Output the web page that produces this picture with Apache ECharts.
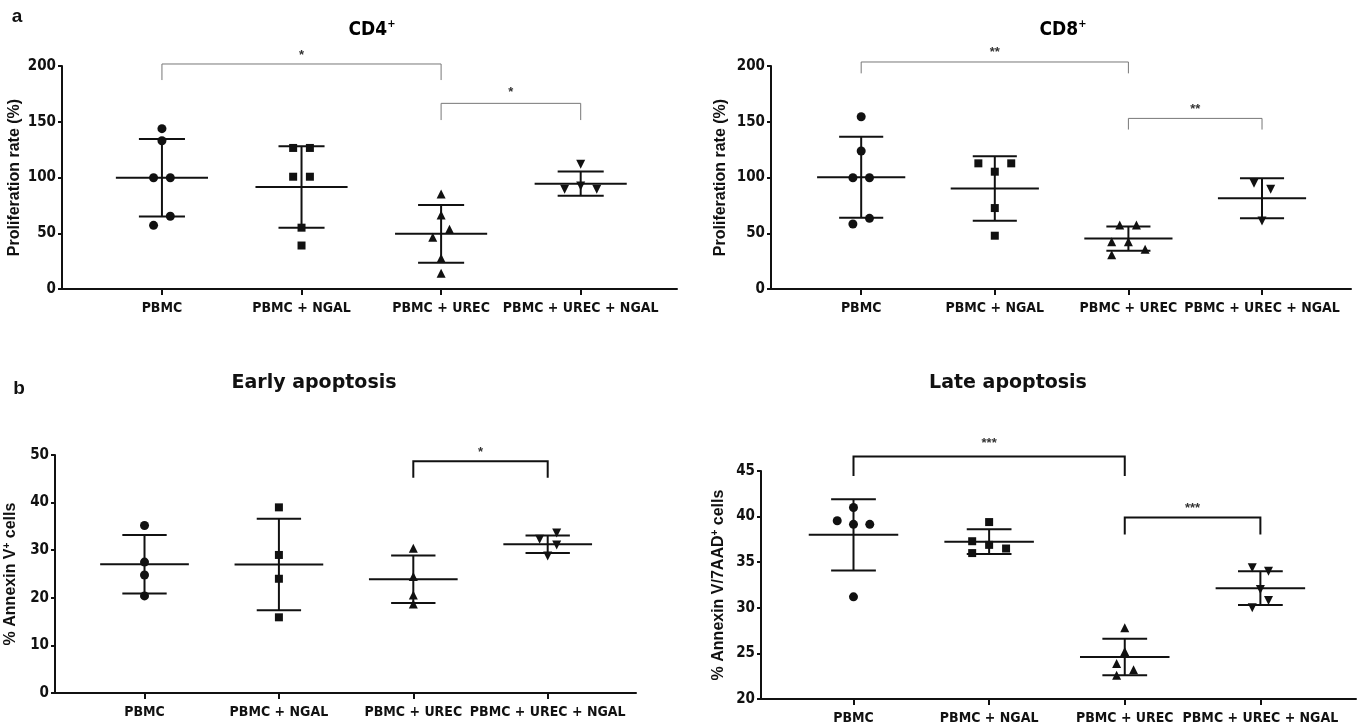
<!DOCTYPE html>
<html>
<head>
<meta charset="utf-8">
<script src="https://cdn.jsdelivr.net/npm/echarts@6/dist/echarts.min.js"></script>
<style>
html,body{margin:0;padding:0;background:#fff;}
#chart{width:1358px;height:725px;}
</style>
</head>
<body>
<div id="chart"></div>
<script>
// ---------- DATA ----------
const categories = ['PBMC', 'PBMC + NGAL', 'PBMC + UREC', 'PBMC + UREC + NGAL'];

// a) CD4+ proliferation rate (%)
const cd4Values = [
  [143.8, 133, 99.8, 99.8, 65.2, 57.1],
  [126.5, 126.5, 100.7, 100.7, 55, 39],
  [85.2, 66.4, 53.5, 46.4, 27.5, 14.1],
  [111.8, 92.4, 89.4, 89.4]
];
const cd4Jitter = [
  [0, 0, -0.06, 0.06, 0.06, -0.06],
  [-0.06, 0.06, -0.06, 0.06, 0, 0],
  [0, 0, 0.06, -0.06, 0, 0],
  [0, 0, -0.115, 0.115]
];
const cd4Mean = [99.8, 91.5, 49.5, 94.5];
const cd4Sd = [34.8, 36.5, 25.9, 10.8];
const cd4Brackets = [[0, 2, 201.8, 187.4, 212.5], [2, 3, 166.5, 151.5, 179]];
const cd4Stars = ['*', '*'];

// a) CD8+ proliferation rate (%)
const cd8Values = [
  [154.5, 123.8, 99.8, 99.8, 63.4, 58.3],
  [112.7, 112.7, 105.2, 72.6, 47.8],
  [57.4, 57.4, 42.4, 42.4, 35.6, 30.8],
  [94.8, 89.4, 61]
];
const cd8Jitter = [
  [0, 0, -0.062, 0.062, 0.062, -0.062],
  [-0.123, 0.123, 0, 0, 0],
  [-0.065, 0.06, -0.125, 0, 0.125, -0.125],
  [-0.06, 0.065, 0]
];
const cd8Mean = [100.3, 90.2, 45.2, 81.4];
const cd8Sd = [36.3, 28.9, 10.8, 18];
const cd8Brackets = [[0, 2, 203.6, 193.4, 215], [2, 3, 153, 143, 163.5]];
const cd8Stars = ['**', '**'];

// b) Early apoptosis, % Annexin V+ cells
const earlyValues = [
  [35.2, 27.5, 24.8, 20.4],
  [39, 29, 24, 15.9],
  [30.4, 24.5, 20.6, 18.7],
  [33.6, 32.3, 31.1, 28.8]
];
const earlyJitter = [
  [0, 0, 0, 0],
  [0, 0, 0, 0],
  [0, 0, 0, 0],
  [0.067, -0.06, 0.067, 0]
];
const earlyMean = [27.05, 27.0, 23.9, 31.25];
const earlySd = [6.15, 9.6, 5.0, 1.85];
const earlyBrackets = [[2, 3, 48.7, 45.2, 51.2]];
const earlyStars = ['*'];

// b) Late apoptosis, % Annexin V/7AAD+ cells
const lateValues = [
  [41.0, 39.55, 39.15, 39.15, 31.2],
  [39.4, 37.3, 36.9, 36.5, 36.0],
  [27.8, 25.2, 23.9, 23.2, 22.6],
  [34.4, 34.0, 32.0, 30.8, 30.0]
];
const lateJitter = [
  [0, -0.12, 0, 0.12, 0],
  [0, -0.125, 0, 0.125, -0.125],
  [0, 0, -0.06, 0.065, -0.06],
  [-0.06, 0.06, 0, 0.06, -0.06]
];
const lateMean = [38.0, 37.25, 24.6, 32.15];
const lateSd = [3.9, 1.35, 2.0, 1.85];
const lateBrackets = [[0, 2, 46.6, 44.45, 48.4], [2, 3, 39.9, 38.05, 41.2]];
const lateStars = ['***', '***'];

const yTicks = {cd4: [0, 200, 50], cd8: [0, 200, 50], early: [0, 50, 10], late: [20, 45, 5]};

// ---------- LAYOUT / STYLE ----------
const NARROW = "'Liberation Sans Narrow', 'DejaVu Sans Condensed', 'Liberation Sans', sans-serif";
const SANS = "'Liberation Sans', Arial, sans-serif";
const INK = '#111';

const panels = [
  {values: cd4Values, jitter: cd4Jitter, mean: cd4Mean, sd: cd4Sd, brackets: cd4Brackets, stars: cd4Stars, y: yTicks.cd4,
   grid: {left: 62, top: 66, width: 615, height: 223}, xmin: -0.716, xmax: 3.69,
   yname: 'Proliferation rate (%)', nameGap: 38, bColor: '#777', bWidth: 1},
  {values: cd8Values, jitter: cd8Jitter, mean: cd8Mean, sd: cd8Sd, brackets: cd8Brackets, stars: cd8Stars, y: yTicks.cd8,
   grid: {left: 771, top: 66, width: 580, height: 223}, xmin: -0.675, xmax: 3.666,
   yname: 'Proliferation rate (%)', nameGap: 41, bColor: '#777', bWidth: 1},
  {values: earlyValues, jitter: earlyJitter, mean: earlyMean, sd: earlySd, brackets: earlyBrackets, stars: earlyStars, y: yTicks.early,
   grid: {left: 55, top: 455, width: 581, height: 238}, xmin: -0.666, xmax: 3.657,
   yname: '% Annexin V{s|+} cells', nameGap: 35, bColor: '#111', bWidth: 2},
  {values: lateValues, jitter: lateJitter, mean: lateMean, sd: lateSd, brackets: lateBrackets, stars: lateStars, y: yTicks.late,
   grid: {left: 761, top: 471, width: 595, height: 228}, xmin: -0.682, xmax: 3.705,
   yname: '% Annexin V/7AAD{s|+} cells', nameGap: 33, bColor: '#111', bWidth: 2}
];

const symbols = [
  {symbol: 'circle', size: 9, rotate: 0},
  {symbol: 'rect', size: 8, rotate: 0},
  {symbol: 'triangle', size: 9, rotate: 0},
  {symbol: 'triangle', size: 9, rotate: 180}
];

const grids = [], xAxes = [], yAxes = [], series = [];

panels.forEach((p, k) => {
  grids.push(Object.assign({outerBoundsMode: 'none', containLabel: false}, p.grid));
  xAxes.push({
    type: 'value', gridIndex: k, min: p.xmin, max: p.xmax,
    splitLine: {show: false},
    axisLine: {show: true, onZero: false, lineStyle: {color: INK, width: 2}},
    axisTick: {show: true, customValues: [0, 1, 2, 3], length: 6, lineStyle: {color: INK, width: 2}},
    axisLabel: {customValues: [0, 1, 2, 3], margin: 12, color: INK, fontFamily: NARROW, fontWeight: 'bold', fontSize: 14,
      formatter: v => categories[Math.round(v)] || ''}
  });
  yAxes.push({
    type: 'value', gridIndex: k, min: p.y[0], max: p.y[1], interval: p.y[2],
    splitLine: {show: false},
    axisLine: {show: true, onZero: false, lineStyle: {color: INK, width: 2}},
    axisTick: {show: true, length: 4, lineStyle: {color: INK, width: 2}},
    axisLabel: {margin: 6, color: INK, fontFamily: NARROW, fontWeight: 'bold', fontSize: 15},
    name: p.yname, nameLocation: 'middle', nameGap: p.nameGap, nameRotate: 90,
    nameTextStyle: {color: INK, fontFamily: SANS, fontWeight: 'bold', fontSize: 16, lineHeight: 18,
      rich: {s: {fontFamily: SANS, fontWeight: 'bold', fontSize: 10, lineHeight: 10, verticalAlign: 'top', color: INK}}}
  });

  // error bars: mean line + SD whiskers
  series.push({
    type: 'custom', xAxisIndex: k, yAxisIndex: k, silent: true, z: 2,
    data: p.mean.map((m, i) => [i, m, p.sd[i]]),
    renderItem: (params, api) => {
      const x = api.value(0), m = api.value(1), s = api.value(2);
      const c = (a, b) => api.coord([a, b]);
      const st = {stroke: INK, lineWidth: 2};
      const seg = (a, b) => ({type: 'line', shape: {x1: a[0], y1: a[1], x2: b[0], y2: b[1]}, style: st});
      return {type: 'group', children: [
        seg(c(x - 0.33, m), c(x + 0.33, m)),
        seg(c(x, m - s), c(x, m + s)),
        seg(c(x - 0.165, m + s), c(x + 0.165, m + s)),
        seg(c(x - 0.165, m - s), c(x + 0.165, m - s))
      ]};
    }
  });

  // individual points
  p.values.forEach((vals, i) => {
    const sy = symbols[i];
    series.push({
      type: 'scatter', xAxisIndex: k, yAxisIndex: k, silent: true, z: 3,
      symbol: sy.symbol, symbolSize: sy.size, symbolRotate: sy.rotate,
      itemStyle: {color: INK, opacity: 1},
      data: vals.map((v, j) => [i + p.jitter[i][j], v])
    });
  });

  // significance brackets
  series.push({
    type: 'custom', xAxisIndex: k, yAxisIndex: k, silent: true, clip: false, z: 4,
    data: p.brackets,
    renderItem: (params, api) => {
      const a = api.value(0), b = api.value(1), top = api.value(2), drop = api.value(3), ly = api.value(4);
      const p1 = api.coord([a, drop]), p2 = api.coord([a, top]), p3 = api.coord([b, top]), p4 = api.coord([b, drop]);
      const t = api.coord([(a + b) / 2, ly]);
      return {type: 'group', children: [
        {type: 'polyline', shape: {points: [p1, p2, p3, p4]}, style: {stroke: p.bColor, lineWidth: p.bWidth, fill: null}},
        {type: 'text', x: t[0], y: t[1] + 3, style: {text: p.stars[params.dataIndex], fill: '#333',
          font: 'bold 13px ' + SANS, align: 'center', verticalAlign: 'middle'}}
      ]};
    }
  });
});

const titleRich = {
  m: {fontFamily: NARROW, fontWeight: 'bold', fontSize: 19, lineHeight: 22, color: INK},
  s: {fontFamily: NARROW, fontWeight: 'bold', fontSize: 11, lineHeight: 11, verticalAlign: 'top', color: INK}
};

const graphic = [
  {type: 'text', x: 372, y: 30, style: {text: '{m|CD4}{s|+}', rich: titleRich, align: 'center', verticalAlign: 'middle'}},
  {type: 'text', x: 1063, y: 30, style: {text: '{m|CD8}{s|+}', rich: titleRich, align: 'center', verticalAlign: 'middle'}},
  {type: 'text', x: 314, y: 383, style: {text: 'Early apoptosis', font: 'bold 19px "DejaVu Sans"', fill: INK, align: 'center', verticalAlign: 'middle'}},
  {type: 'text', x: 1008, y: 383, style: {text: 'Late apoptosis', font: 'bold 19px "DejaVu Sans"', fill: INK, align: 'center', verticalAlign: 'middle'}},
  {type: 'text', x: 17, y: 17, style: {text: 'a', font: 'bold 19px ' + SANS, fill: INK, align: 'center', verticalAlign: 'middle'}},
  {type: 'text', x: 19, y: 389, style: {text: 'b', font: 'bold 19px ' + SANS, fill: INK, align: 'center', verticalAlign: 'middle'}}
];

const chart = echarts.init(document.getElementById('chart'), null, {renderer: 'canvas'});
chart.setOption({
  backgroundColor: '#fff',
  animation: false,
  grid: grids,
  xAxis: xAxes,
  yAxis: yAxes,
  series: series,
  graphic: graphic
});
</script>
</body>
</html>
